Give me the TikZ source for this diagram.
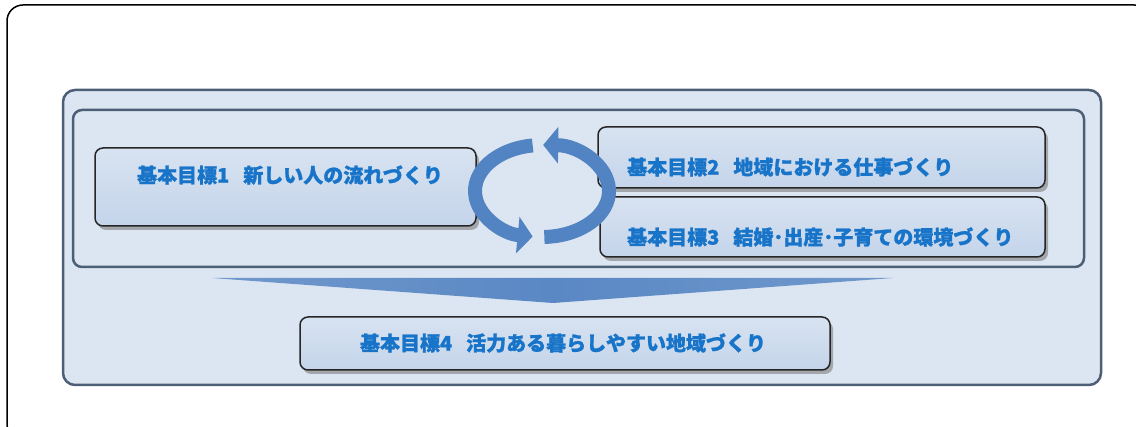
\documentclass[tikz,border=0pt]{standalone}
\usepackage{fontspec}
\newfontfamily\jpfont{Noto Sans CJK JP}[BoldFeatures={FakeBold=1.2}]
\usetikzlibrary{arrows.meta,shadows}
\definecolor{panelfill}{HTML}{DCE6F2}
\definecolor{panelline}{HTML}{4D5F77}
\definecolor{boxtop}{HTML}{D8E3F1}
\definecolor{boxbottom}{HTML}{C4D4EA}
\definecolor{goalblue}{HTML}{1874C8}
\definecolor{cycleblue}{HTML}{5283C2}
\definecolor{chevronblue}{HTML}{5A88C4}
\pgfdeclarehorizontalshading{chevronfade}{100bp}{color(0bp)=(panelfill); color(22bp)=(chevronblue!85); color(50bp)=(chevronblue); color(78bp)=(chevronblue!85); color(100bp)=(panelfill)}

\begin{document}
\begin{tikzpicture}
[every node/.style={inner sep=0pt},
 panel/.style={rectangle, rounded corners=12pt, fill=panelfill, line width=2.5pt, draw=panelline},
 goalbox/.style={rectangle, rounded corners=8pt, top color=boxtop, bottom color=boxbottom, line width=1.5pt, draw=black!85, drop shadow={shadow xshift=3pt, shadow yshift=-4pt, fill=black!45, opacity=0.7}},
 goaltext/.style={font=\jpfont\bfseries\fontsize{20pt}{24pt}\selectfont, text=goalblue},
 cyclearrow/.style={line width=14pt, color=cycleblue, -{Triangle[length=15pt, width=36pt]}}]
\clip (0pt,0pt) rectangle (1136pt,-427pt);
\draw [line width=1.5pt, rounded corners=16pt, color=black] (7pt,-5pt) rectangle (1150pt,-440pt);
\node (outer) [panel, minimum width=1038pt, minimum height=295pt] at (582pt, -237.5pt) {};
\node (inner) [panel, rounded corners=9pt, minimum width=1011pt, minimum height=157pt] at (578.5pt, -188.5pt) {};
\shade [shading=chevronfade] (212pt,-278pt) -- (893pt,-278pt) -- (553pt,-303pt) -- cycle;
\node (goal1) [goalbox, minimum width=381pt, minimum height=78pt] at (285.5pt, -187pt) {};
\node (goal2) [goalbox, minimum width=447pt, minimum height=61pt] at (821.5pt, -157.5pt) {};
\node (goal3) [goalbox, minimum width=445pt, minimum height=60pt] at (822.5pt, -227pt) {};
\node (goal4) [goalbox, minimum width=530pt, minimum height=53pt] at (565pt, -343.5pt) {};
\node (goal1text) [goaltext] at (290pt, -175pt) {基本目標1\hspace{14pt}新しい人の流れづくり};
\node (goal2text) [goaltext, anchor=west] at (627pt, -167pt) {基本目標2\hspace{14pt}地域における仕事づくり};
\node (goal3text) [goaltext, anchor=west] at (627pt, -237pt) {基本目標3\hspace{14pt}結婚･出産･子育ての環境づくり};
\node (goal4text) [goaltext] at (563pt, -343pt) {基本目標4\hspace{14pt}活力ある暮らしやすい地域づくり};
\coordinate (turn) at (542pt, -191pt);
\draw [cyclearrow] ([shift={(98:67pt and 46pt)}]turn) arc [start angle=98, end angle=262, x radius=67pt, y radius=46pt];
\draw [cyclearrow] ([shift={(272:67pt and 46pt)}]turn) arc [start angle=272, end angle=449, x radius=67pt, y radius=46pt];
\end{tikzpicture}
\end{document}
